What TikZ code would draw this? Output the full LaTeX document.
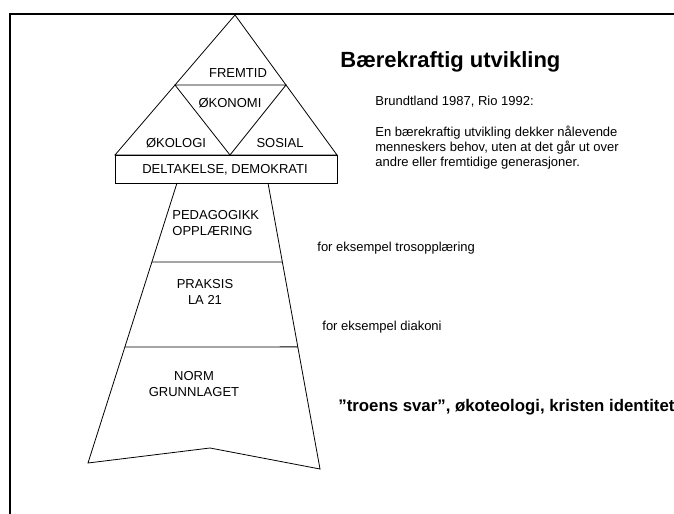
\documentclass[tikz,border=0pt]{standalone}
\usepackage{fontspec}
\setmainfont{Liberation Sans}
\usetikzlibrary{calc}

\tikzset{
  lbl/.style={font=\fontsize{13bp}{15.5bp}\selectfont,inner sep=0pt,align=center},
  note/.style={font=\fontsize{13bp}{14.6bp}\selectfont,inner sep=0pt,align=left,anchor=west},
}

\begin{document}
\begin{tikzpicture}[x=1bp,y=-1bp,line width=0.8bp,line join=miter]
  \useasboundingbox (0,0) rectangle (674,514);
  % frame
  \draw[line width=2.6bp] (674,14) -- (10,14) -- (10,514);
  % top triangle
  \coordinate (apex) at (235,15);
  \coordinate (tl) at (115,155);
  \coordinate (tr) at (337,155);
  \coordinate (ml) at ($(apex)!0.5!(tl)$);
  \coordinate (mr) at ($(apex)!0.5!(tr)$);
  \coordinate (mb) at (230,155);
  \draw (apex) -- (tr) -- (tl) -- cycle;
  \draw (ml) -- (mr) -- (mb) -- cycle;
  \draw (115,155) rectangle (337,183);
  % stem
  \coordinate (sl) at (177,183);
  \coordinate (sr) at (268,183);
  \coordinate (bl) at (88,463);
  \coordinate (bm) at (210,448);
  \coordinate (br) at (320,469);
  \draw (sl) -- (bl) -- (bm) -- (br) -- (sr);
  \draw ($(sl)!0.282!(bl)$) -- ($(sr)!0.276!(br)$);
  \draw ($(sl)!0.586!(bl)$) -- ($(sr)!0.573!(br)$);
  % labels
  \node[lbl] (fremtid) at (238,73) {FREMTID};
  \node[lbl] (okonomi) at (230,103) {ØKONOMI};
  \node[lbl] (okologi) at (176,143) {ØKOLOGI};
  \node[lbl] (sosial) at (280,143) {SOSIAL};
  \node[lbl] (deltak) at (225,170) {DELTAKELSE, DEMOKRATI};
  \node[lbl,align=left,anchor=west] (pedag) at (172,223) {PEDAGOGIKK\\OPPLÆRING};
  \node[lbl] (praksis) at (205,292) {PRAKSIS\\LA 21};
  \node[lbl] (norm) at (194,384) {NORM\\GRUNNLAGET};
  % texts on the right
  \node[anchor=west,inner sep=0pt,font=\fontsize{22bp}{26bp}\selectfont\bfseries] (title) at (340,62) {Bærekraftig utvikling};
  \node[note] (brundt) at (375,102) {Brundtland 1987, Rio 1992:};
  \node[note,anchor=north west] (def) at (375,126) {En bærekraftig utvikling dekker nålevende\\menneskers behov, uten at det går ut over\\andre eller fremtidige generasjoner.};
  \node[note] (ex1) at (317,248) {for eksempel trosopplæring};
  \node[note] (ex2) at (322,327) {for eksempel diakoni};
  \node[anchor=west,inner sep=0pt,font=\fontsize{16.8bp}{20bp}\selectfont\bfseries] (svar) at (338,407) {”troens svar”, økoteologi, kristen identitet};
\end{tikzpicture}
\end{document}
